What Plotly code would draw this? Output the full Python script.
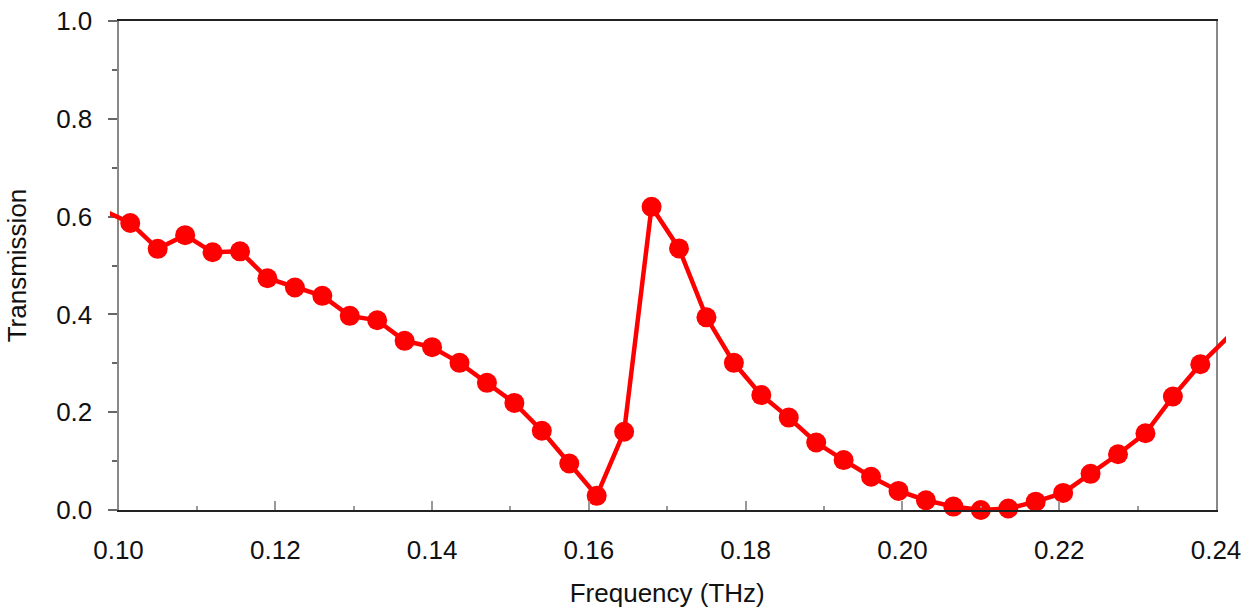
import plotly.graph_objects as go

# Measured transmission spectrum
freq_thz = [0.1015, 0.1050, 0.1085, 0.1120, 0.1155, 0.1190, 0.1225, 0.1260,
            0.1295, 0.1330, 0.1365, 0.1400, 0.1435, 0.1470, 0.1505, 0.1540,
            0.1575, 0.1610, 0.1645, 0.1680, 0.1715, 0.1750, 0.1785, 0.1820,
            0.1855, 0.1890, 0.1925, 0.1960, 0.1995, 0.2030, 0.2065, 0.2100,
            0.2135, 0.2170, 0.2205, 0.2240, 0.2275, 0.2310, 0.2345, 0.2380]
transmission = [0.587, 0.534, 0.562, 0.527, 0.529, 0.474, 0.455, 0.438,
                0.397, 0.388, 0.346, 0.333, 0.301, 0.260, 0.219, 0.162,
                0.095, 0.029, 0.160, 0.620, 0.535, 0.394, 0.301, 0.235,
                0.189, 0.138, 0.102, 0.068, 0.039, 0.020, 0.007, 0.000,
                0.003, 0.017, 0.035, 0.074, 0.114, 0.157, 0.232, 0.298]

# Neighbouring samples just outside the displayed window (line only)
edge_freq = [0.0980, 0.2415]
edge_trans = [0.613, 0.353]

x_ticks = [0.10, 0.12, 0.14, 0.16, 0.18, 0.20, 0.22, 0.24]
y_ticks = [0.0, 0.2, 0.4, 0.6, 0.8, 1.0]

RED = "#FF0000"
FONT = "Liberation Sans, Arial, sans-serif"

W, H = 1255, 610
ML, MR, MT, MB = 110, 29, 21, 100
plot_w = W - ML - MR
ax_left, ax_right = 118.5, 1216.0
x0, x1 = 0.10, 0.24
px_per_unit = (ax_right - ax_left) / (x1 - x0)
dom = [(ax_left - ML) / plot_w, (ax_right - ML) / plot_w]
x2_range = [x0 - (ax_left - ML) / px_per_unit, x1 + (ML + plot_w - ax_right) / px_per_unit]

line_x = [edge_freq[0]] + freq_thz + [edge_freq[1]]
line_y = [edge_trans[0]] + transmission + [edge_trans[1]]

fig = go.Figure()

# data markers on the framed axes
fig.add_trace(go.Scatter(
    x=freq_thz, y=transmission, xaxis="x", yaxis="y", mode="markers",
    marker=dict(color=RED, size=20),
    cliponaxis=False, showlegend=False,
))

# connecting line, on a slightly wider invisible axis so it runs a little past the frame
fig.add_trace(go.Scatter(
    x=line_x, y=line_y, xaxis="x2", yaxis="y",
    mode="lines", line=dict(color=RED, width=4.5),
    hoverinfo="skip", showlegend=False,
))

fig.update_layout(
    width=W, height=H,
    margin=dict(l=ML, r=MR, t=MT, b=MB, autoexpand=False),
    paper_bgcolor="white", plot_bgcolor="rgba(0,0,0,0)",
    font=dict(family=FONT, size=26, color="#111111"),
    xaxis=dict(
        domain=dom, range=[x0, x1],
        tickvals=x_ticks, ticktext=[f"{v:.2f}" for v in x_ticks],
        ticks="inside", ticklen=9, tickwidth=1.5, tickcolor="#999999",
        minor=dict(dtick=0.01, tick0=0.0, ticks="inside", ticklen=4,
                   tickwidth=1.5, tickcolor="#999999", showgrid=False),
        showline=True, linecolor="#222222", linewidth=2, mirror=True,
        showgrid=False, zeroline=False,
        ticklabelstandoff=16,
        title=dict(text="Frequency (THz)", font=dict(size=26), standoff=20),
        anchor="y",
    ),
    xaxis2=dict(
        domain=[0, 1], range=x2_range, visible=False, anchor="y",
    ),
    yaxis=dict(
        domain=[0, 1], range=[0, 1],
        tickvals=y_ticks, ticktext=[f"{v:.1f}" for v in y_ticks],
        ticks="outside", ticklen=9, tickwidth=1.5, tickcolor="#666666",
        minor=dict(dtick=0.1, tick0=0.0, ticks="outside", ticklen=5,
                   tickwidth=1.5, tickcolor="#666666", showgrid=False),
        showline=True, linecolor="#888888", linewidth=2, mirror=True,
        showgrid=False, zeroline=False,
        ticklabelstandoff=10,
        title=dict(text="Transmission", font=dict(size=26), standoff=22),
        anchor="x",
    ),
)

fig.write_html("out.html")
